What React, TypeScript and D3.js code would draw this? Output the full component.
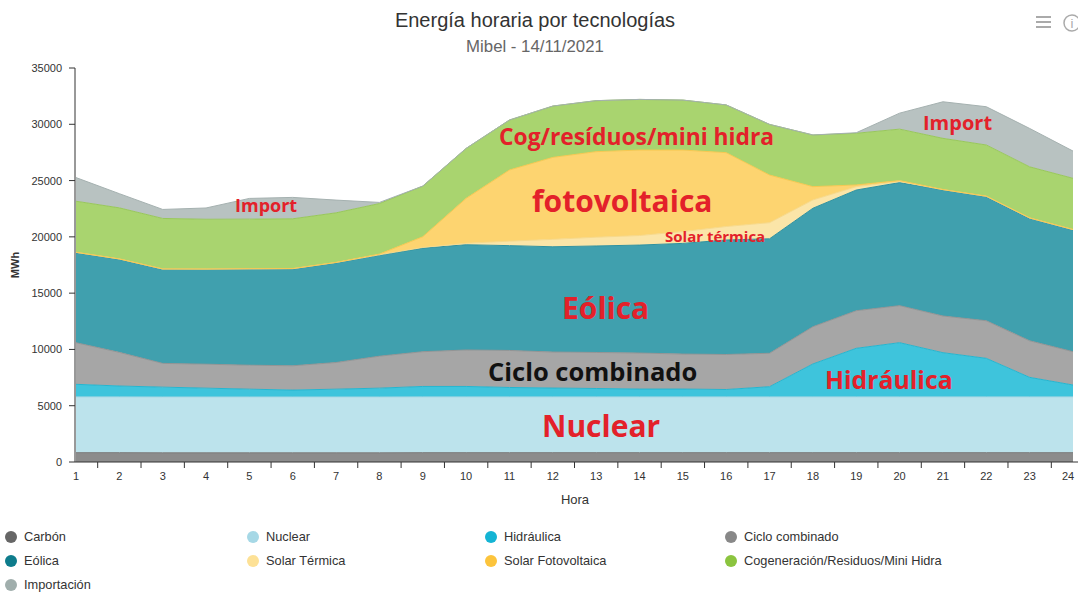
import React, { useEffect, useRef } from 'react';
import * as d3 from 'd3';

const hours = ['1', '2', '3', '4', '5', '6', '7', '8', '9', '10', '11', '12', '13', '14', '15', '16', '17', '18', '19', '20', '21', '22', '23', '24'];

const carbon = [830, 830, 820, 820, 820, 820, 820, 820, 830, 830, 830, 830, 830, 830, 830, 830, 830, 830, 830, 830, 830, 830, 830, 830];
const nuclear = [4950, 4950, 4950, 4950, 4950, 4950, 4950, 4950, 4950, 4950, 4950, 4950, 4950, 4950, 4950, 4950, 4950, 4950, 4950, 4950, 4950, 4950, 4950, 4950];
const hidraulica = [1120, 970, 880, 790, 700, 620, 700, 790, 930, 930, 840, 790, 750, 700, 700, 660, 910, 2930, 4320, 4820, 3930, 3430, 1740, 1060];
const cicloCombinado = [3700, 2990, 2110, 2130, 2130, 2160, 2370, 2840, 3090, 3240, 3290, 3200, 3200, 3200, 3110, 3110, 2970, 3310, 3340, 3290, 3260, 3340, 3250, 2960];
const eolica = [7990, 8260, 8350, 8410, 8530, 8590, 8850, 8970, 9200, 9350, 9310, 9350, 9460, 9590, 9830, 10170, 10170, 10520, 10720, 10930, 11190, 11020, 10870, 10810];
const solarTermica = [30, 30, 30, 30, 30, 30, 30, 40, 60, 130, 400, 660, 780, 850, 1050, 1200, 1430, 740, 300, 100, 30, 30, 30, 30];
const fotovoltaica = [15, 15, 15, 15, 15, 15, 15, 60, 950, 3990, 6320, 7280, 7600, 7590, 7240, 6560, 4230, 1180, 150, 80, 20, 20, 20, 20];
const cogeneracion = [4530, 4530, 4480, 4420, 4400, 4420, 4400, 4490, 4500, 4440, 4440, 4560, 4530, 4500, 4440, 4240, 4500, 4590, 4590, 4570, 4540, 4540, 4530, 4540];
const importacion = [2100, 1260, 800, 1000, 1840, 1900, 1130, 100, 0, 0, 0, 0, 0, 0, 0, 0, 0, 0, 50, 1420, 3250, 3400, 3410, 2420];

const yTicks = [0, 5000, 10000, 15000, 20000, 25000, 30000, 35000];

const series = [
  { key: 'carbon', name: 'Carbón', values: carbon, fill: '#8c8c8c', line: '#7a7a7a', dot: '#666666' },
  { key: 'nuclear', name: 'Nuclear', values: nuclear, fill: '#bce3ec', line: '#a9d8e4', dot: '#a6d8e6' },
  { key: 'hidraulica', name: 'Hidráulica', values: hidraulica, fill: '#3ec4dc', line: '#25b5cf', dot: '#14b4d4' },
  { key: 'ciclo', name: 'Ciclo combinado', values: cicloCombinado, fill: '#a6a6a6', line: '#949494', dot: '#888888' },
  { key: 'eolica', name: 'Eólica', values: eolica, fill: '#40a0ae', line: '#2f919f', dot: '#0e7c8c' },
  { key: 'solarTermica', name: 'Solar Térmica', values: solarTermica, fill: '#fbe5a8', line: '#f7d98a', dot: '#fde196' },
  { key: 'fotovoltaica', name: 'Solar Fotovoltaica', values: fotovoltaica, fill: '#fdd470', line: '#f8c850', dot: '#fcc43c' },
  { key: 'cog', name: 'Cogeneración/Residuos/Mini Hidra', values: cogeneracion, fill: '#a9d46f', line: '#98c75b', dot: '#8bc43f' },
  { key: 'import', name: 'Importación', values: importacion, fill: '#b8c2c1', line: '#a5b1b0', dot: '#a0aeac' },
];

// red/black labels written over the areas
const notes = [
  { text: 'Import', x: 235, y: 212, size: 18, color: '#e3212a' },
  { text: 'Cog/resíduos/mini hidra', x: 499, y: 145, size: 22.8, color: '#e3212a' },
  { text: 'fotovoltaica', x: 532, y: 212, size: 30, color: '#e3212a' },
  { text: 'Solar térmica', x: 665, y: 242, size: 15, color: '#e3212a' },
  { text: 'Eólica', x: 562, y: 319, size: 30, color: '#e3212a' },
  { text: 'Ciclo combinado', x: 488, y: 381, size: 25.5, color: '#111111' },
  { text: 'Hidráulica', x: 825, y: 389, size: 24.8, color: '#e3212a' },
  { text: 'Nuclear', x: 542, y: 437, size: 30, color: '#e3212a' },
  { text: 'Import', x: 923, y: 130, size: 20, color: '#e3212a' },
];

const font = '"Liberation Sans", Arial, sans-serif';

const App: React.FC = () => {
  const svgRef = useRef<SVGSVGElement>(null);

  useEffect(() => {
    if (!svgRef.current) return;
    const svg = d3.select(svgRef.current);
    svg.selectAll('*').remove();

    const x = d3.scaleLinear().domain([1, 24]).range([76, 1073]);
    const y = d3.scaleLinear().domain([0, 35000]).range([462, 68]);

    const rows = hours.map((h, i) => {
      const r: any = { hour: +h };
      series.forEach(s => { r[s.key] = s.values[i]; });
      return r;
    });
    const stacked = d3.stack<any>().keys(series.map(s => s.key))(rows);

    const area = d3.area<any>()
      .x(d => x(d.data.hour))
      .y0(d => y(d[0]))
      .y1(d => y(d[1]));
    const topLine = d3.line<any>()
      .x(d => x(d.data.hour))
      .y(d => y(d[1]));

    const plot = svg.append('g');
    stacked.forEach((layer, i) => {
      plot.append('path')
        .datum(layer)
        .attr('d', area)
        .attr('fill', series[i].fill);
    });
    stacked.forEach((layer, i) => {
      plot.append('path')
        .datum(layer)
        .attr('d', topLine)
        .attr('fill', 'none')
        .attr('stroke', series[i].line)
        .attr('stroke-width', 1);
    });

    // Titles
    svg.append('text')
      .attr('x', 535).attr('y', 27)
      .attr('text-anchor', 'middle')
      .attr('fill', '#333')
      .style('font-family', font)
      .style('font-size', '20px')
      .text('Energía horaria por tecnologías');
    svg.append('text')
      .attr('x', 535).attr('y', 52)
      .attr('text-anchor', 'middle')
      .attr('fill', '#666')
      .style('font-family', font)
      .style('font-size', '16.8px')
      .text('Mibel - 14/11/2021');

    // Y axis
    const yAxis = svg.append('g');
    yAxis.append('line')
      .attr('x1', 75).attr('x2', 75)
      .attr('y1', y(35000)).attr('y2', y(0))
      .attr('stroke', '#333');
    yTicks.forEach(t => {
      yAxis.append('line')
        .attr('x1', 69).attr('x2', 75)
        .attr('y1', y(t)).attr('y2', y(t))
        .attr('stroke', '#333');
      yAxis.append('text')
        .attr('x', 62).attr('y', y(t) + 4)
        .attr('text-anchor', 'end')
        .attr('fill', '#333')
        .style('font-family', font)
        .style('font-size', '11px')
        .text(t);
    });
    svg.append('text')
      .attr('transform', `translate(19, ${y(17500)}) rotate(-90)`)
      .attr('text-anchor', 'middle')
      .attr('fill', '#333')
      .style('font-family', font)
      .style('font-size', '11px')
      .style('font-weight', 'bold')
      .text('MWh');

    // X axis
    const xAxis = svg.append('g');
    xAxis.append('line')
      .attr('x1', 75).attr('x2', 1078)
      .attr('y1', 462).attr('y2', 462)
      .attr('stroke', '#333');
    hours.forEach((h, i) => {
      if (i > 0) {
        xAxis.append('line')
          .attr('x1', x(+h - 0.5)).attr('x2', x(+h - 0.5))
          .attr('y1', 462).attr('y2', 468)
          .attr('stroke', '#333');
      }
      xAxis.append('text')
        .attr('x', Math.min(x(+h), 1068)).attr('y', 480)
        .attr('text-anchor', 'middle')
        .attr('fill', '#333')
        .style('font-family', font)
        .style('font-size', '11px')
        .text(h);
    });
    svg.append('text')
      .attr('x', 575).attr('y', 504)
      .attr('text-anchor', 'middle')
      .attr('fill', '#333')
      .style('font-family', font)
      .style('font-size', '13px')
      .text('Hora');

    // Annotations
    notes.forEach(n => {
      svg.append('text')
        .attr('x', n.x).attr('y', n.y)
        .attr('fill', n.color)
        .style('font-family', '"Open Sans", "Noto Sans", sans-serif')
        .style('font-size', `${n.size}px`)
        .style('font-weight', 'bold')
        .text(n.text);
    });

    // Legend
    const colX = [11, 253, 491, 731];
    const legend = svg.append('g');
    series.forEach((s, i) => {
      const cx = colX[i % 4];
      const cy = 537 + Math.floor(i / 4) * 24;
      legend.append('circle')
        .attr('cx', cx).attr('cy', cy).attr('r', 6)
        .attr('fill', s.dot);
      legend.append('text')
        .attr('x', cx + 13).attr('y', cy + 4)
        .attr('fill', '#333')
        .style('font-family', font)
        .style('font-size', '12.8px')
        .text(s.name);
    });

    // Menu / info icons
    const icons = svg.append('g').attr('stroke', '#aaa').attr('stroke-width', 2);
    [17, 22, 27].forEach(yy => {
      icons.append('line').attr('x1', 1036).attr('x2', 1051).attr('y1', yy).attr('y2', yy);
    });
    icons.append('circle').attr('cx', 1072).attr('cy', 23).attr('r', 8).attr('fill', 'none').attr('stroke-width', 1.5);
    svg.append('text')
      .attr('x', 1072).attr('y', 28)
      .attr('text-anchor', 'middle')
      .attr('fill', '#aaa')
      .style('font-family', font)
      .style('font-size', '13px')
      .text('i');
  }, []);

  return (
    <div style={{ position: 'absolute', left: 0, top: 0 }}>
      <svg ref={svgRef} width="1078" height="603" style={{ display: 'block', background: '#fff' }}></svg>
    </div>
  );
};

export default App;
